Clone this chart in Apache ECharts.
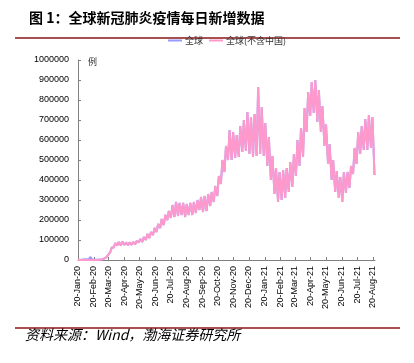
<!DOCTYPE html>
<html>
<head>
<meta charset="utf-8">
<script src="https://cdn.jsdelivr.net/npm/echarts@6/dist/echarts.min.js"></script>
<style>html,body{margin:0;padding:0;background:#fff;}#c{width:414px;height:363px;}</style>
</head>
<body>
<div id="c"></div>
<script>
// X tick labels (20th of each month)
const tickLabels = ['20-Jan-20','20-Feb-20','20-Mar-20','20-Apr-20','20-May-20','20-Jun-20','20-Jul-20','20-Aug-20','20-Sep-20','20-Oct-20','20-Nov-20','20-Dec-20','20-Jan-21','20-Feb-21','20-Mar-21','20-Apr-21','20-May-21','20-Jun-21','20-Jul-21','20-Aug-21'];
const seriesNames = ['全球','全球(不含中国)'];
// weekly samples starting Mon 2020-01-20: trough on Monday, peak on Thursday
// ex-China daily new cases
const exTrough = [5,10,20,40,80,300,1700,4000,14000,38000,62000,72000,72000,75000,74000,76000,78000,88000,90000,100000,
  110000,125000,140000,160000,175000,200000,210000,215000,220000,225000,215000,225000,225000,235000,250000,240000,245000,270000,290000,320000,
  380000,440000,500000,500000,510000,515000,540000,545000,530000,515000,520000,530000,520000,470000,400000,330000,290000,300000,310000,340000,
  365000,420000,470000,515000,640000,720000,735000,690000,640000,570000,480000,400000,340000,310000,290000,335000,360000,430000,480000,530000,
  550000,550000,560000,425000];
const exPeak = [10,20,30,60,150,1000,2700,7500,26000,62000,85000,90000,92000,88000,88000,90000,95000,105000,115000,130000,
  140000,160000,180000,205000,225000,245000,275000,290000,285000,285000,280000,285000,290000,300000,315000,320000,330000,340000,370000,420000,
  500000,570000,650000,640000,625000,670000,700000,740000,715000,730000,865000,765000,685000,615000,520000,460000,440000,450000,460000,490000,
  530000,600000,660000,760000,840000,890000,900000,850000,770000,680000,580000,500000,445000,415000,440000,440000,470000,560000,640000,670000,
  705000,725000,715000];
// China daily new cases
const cnTrough = [77,1771,3235,2478,1886,409,202,19,21,78,48,32,89,11,3,1,1,6,7,5,
  4,40,22,19,8,7,21,61,36,22,11,9,10,6,10,14,12,20,22,13,
  16,17,24,8,17,16,22,23,25,33,39,84,109,82,27,14,7,6,10,9,
  14,11,12,16,11,20,10,16,12,17,12,22,24,34,23,18,24,41,56,60,
  98,81,53,25];
const cnPeak = [259,1737,3143,15152,889,433,143,8,39,67,35,46,27,6,4,1,7,2,1,4,
  7,28,19,12,5,12,22,123,94,19,22,17,19,11,14,12,10,22,15,23,
  20,18,11,13,25,17,23,25,33,36,53,138,144,43,15,11,10,9,12,13,
  15,16,13,20,14,17,14,12,14,23,19,26,29,27,22,23,31,65,51,90,
  85,62,41];

const DAY = 86400000;
const start = Date.UTC(2020,0,20);
const monthIdx = {Jan:0,Feb:1,Mar:2,Apr:3,May:4,Jun:5,Jul:6,Aug:7,Sep:8,Oct:9,Nov:10,Dec:11};
// day offsets (from 2020-01-20) of the labelled dates
const tickDays = tickLabels.map(s => { const p = s.split('-'); return Math.round((Date.UTC(2000+ +p[2], monthIdx[p[1]], +p[0]) - start)/DAY); });
const labelOf = {}; tickDays.forEach((d,i)=>{labelOf[d]=tickLabels[i];});

function build(tr, pk, addTr, addPk) {
  const out = [];
  for (let i = 0; i < tr.length; i++) {
    out.push([7*i, tr[i] + (addTr ? addTr[i] : 0)]);
    if (i < pk.length) out.push([7*i+3, pk[i] + (addPk ? addPk[i] : 0)]);
  }
  return out;
}
const worldData = build(exTrough, exPeak, cnTrough, cnPeak);
const exData = build(exTrough, exPeak);

const chart = echarts.init(document.getElementById('c'), null, {renderer:'canvas'});
chart.setOption({
  animation: false,
  backgroundColor: '#fff',
  title: {
    text: '图 1：全球新冠肺炎疫情每日新增数据',
    left: 24, top: 6,
    textStyle: {fontSize: 14, fontWeight: 'bold', color: '#000', fontFamily: 'Noto Sans CJK SC'}
  },
  legend: {
    left: 168, top: 36, padding: 0,
    itemWidth: 14, itemHeight: 2, itemGap: 6, icon: 'rect',
    textStyle: {fontSize: 9, color: '#333', fontFamily: 'Noto Sans CJK SC', padding: [0,0,0,-2]},
    data: seriesNames
  },
  grid: {left: 78, top: 60, width: 297, height: 200, containLabel: false},
  xAxis: {
    type: 'value',
    min: 0, max: 582,
    axisLine: {lineStyle: {color: '#808080', width: 1}},
    axisTick: {show: true, inside: true, length: 3, lineStyle: {color: '#808080'}, customValues: tickDays},
    axisLabel: {
      customValues: tickDays, hideOverlap: false, interval: 0,
      rotate: 90, fontSize: 9, color: '#000', margin: 6,
      fontFamily: 'Liberation Sans, Arial',
      formatter: v => labelOf[Math.round(v)] || ''
    },
    splitLine: {show: false}
  },
  yAxis: {
    type: 'value', min: 0, max: 1000000, interval: 100000,
    axisLine: {show: true, lineStyle: {color: '#808080', width: 1}},
    axisTick: {show: true, inside: true, length: 3, lineStyle: {color: '#808080'}},
    axisLabel: {fontSize: 9, color: '#000', margin: 9, fontFamily: 'Liberation Sans, Arial', formatter: v => String(v)},
    splitLine: {show: false}
  },
  graphic: [
    {type: 'line', shape: {x1: 15, y1: 38, x2: 400, y2: 38}, style: {stroke: '#8B1414', lineWidth: 1.5}},
    {type: 'line', shape: {x1: 15, y1: 328, x2: 400, y2: 328}, style: {stroke: '#8B1414', lineWidth: 1.5}},
    {type: 'text', left: 88, top: 57, style: {text: '例', fontSize: 9, fill: '#333', fontFamily: 'Noto Sans CJK SC'}},
    {type: 'text', left: 25, top: 328, style: {text: '资料来源：Wind，渤海证券研究所', fontSize: 14, fontStyle: 'italic', fill: '#000', fontFamily: 'Noto Sans CJK SC'}}
  ],
  series: [
    {name: seriesNames[0], type: 'line', data: worldData, showSymbol: false, symbol: 'none',
      lineStyle: {color: '#9999FF', width: 2}, itemStyle: {color: '#9999FF'}},
    {name: seriesNames[1], type: 'line', data: exData, showSymbol: false, symbol: 'none',
      lineStyle: {color: '#FF99CC', width: 2}, itemStyle: {color: '#FF99CC'}}
  ]
});
</script>
</body>
</html>
